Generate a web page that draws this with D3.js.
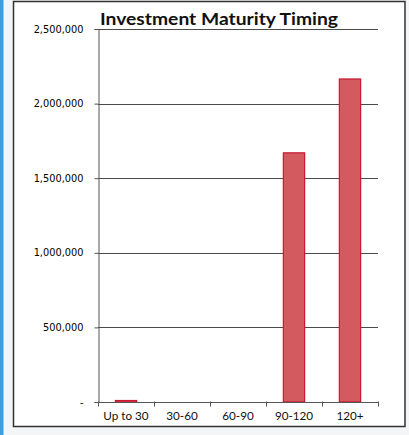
<!DOCTYPE html>
<html>
<head>
<meta charset="utf-8">
<script src="https://cdn.jsdelivr.net/npm/d3@7/dist/d3.min.js"></script>
<style>
  html, body { margin: 0; padding: 0; background: #fff; }
  svg { display: block; }
</style>
</head>
<body>
<svg id="chart" width="409" height="435"></svg>
<script>
// Maturity buckets (days) and invested amounts
const categories = ["Up to 30", "30-60", "60-90", "90-120", "120+"];
const amounts = [10000, 0, 0, 1670000, 2165000];
const yTicks = [0, 500000, 1000000, 1500000, 2000000, 2500000];
const yTickLabels = ["-", "500,000", "1,000,000", "1,500,000", "2,000,000", "2,500,000"];
const title = "Investment Maturity Timing";

const svg = d3.select("#chart");
const W = 409, H = 435;

// page background strips and chart frame
svg.append("rect").attr("x", 0).attr("y", 0).attr("width", W).attr("height", H).attr("fill", "#f4f5f6");
svg.append("rect").attr("x", 0).attr("y", 0).attr("width", 3.5).attr("height", H).attr("fill", "#3a9fe2");
svg.append("rect").attr("x", 13.5).attr("y", 1.5).attr("width", 391.5).attr("height", 425)
  .attr("fill", "#ffffff").attr("stroke", "#333").attr("stroke-width", 1.5);

const plot = { left: 98, right: 378, top: 29, bottom: 402 };

const x = d3.scaleBand()
  .domain(categories)
  .range([plot.left, plot.right])
  .paddingInner(0.62)
  .paddingOuter(0.31);

const y = d3.scaleLinear()
  .domain([0, 2500000])
  .range([plot.bottom, plot.top]);

// horizontal gridlines
svg.append("g")
  .selectAll("line")
  .data(yTicks.filter(d => d > 0))
  .join("line")
  .attr("x1", plot.left).attr("x2", plot.right)
  .attr("y1", d => Math.round(y(d)) + 0.5).attr("y2", d => Math.round(y(d)) + 0.5)
  .attr("stroke", "#4a4a4a").attr("stroke-width", 1);

// bars
svg.append("g")
  .selectAll("rect")
  .data(categories.map((c, i) => ({ c, v: amounts[i] })).filter(d => d.v > 0))
  .join("rect")
  .attr("x", d => x(d.c))
  .attr("width", x.bandwidth())
  .attr("y", d => y(d.v))
  .attr("height", d => Math.max(1, y(0) - y(d.v)))
  .attr("fill", "#d35b5f")
  .attr("stroke", "#c8172f")
  .attr("stroke-width", 1.2);

// y axis
const yAxis = d3.axisLeft(y)
  .tickValues(yTicks)
  .tickFormat((d, i) => yTickLabels[i])
  .tickSize(4)
  .tickPadding(11);
const gy = svg.append("g")
  .attr("transform", `translate(${plot.left + 0.5},0)`)
  .call(yAxis);
gy.select(".domain").attr("stroke", "#555");
gy.selectAll(".tick line").attr("stroke", "#555");
gy.selectAll(".tick text")
  .attr("font-family", "DejaVu Sans, sans-serif")
  .attr("font-size", 9.8)
  .attr("fill", "#000");

// x axis with tick marks at the category boundaries
const gx = svg.append("g")
  .attr("transform", `translate(0,${plot.bottom + 0.5})`);
gx.append("line")
  .attr("x1", plot.left).attr("x2", plot.right)
  .attr("stroke", "#555");
const edges = d3.range(categories.length + 1).map(i => plot.left + i * x.step());
gx.selectAll("line.tick")
  .data(edges)
  .join("line")
  .attr("class", "tick")
  .attr("x1", d => Math.round(d) + 0.5).attr("x2", d => Math.round(d) + 0.5)
  .attr("y1", -1).attr("y2", 4)
  .attr("stroke", "#555");
gx.selectAll("text")
  .data(categories)
  .join("text")
  .attr("x", d => x(d) + x.bandwidth() / 2)
  .attr("y", 17)
  .attr("text-anchor", "middle")
  .attr("font-family", "Lato, Liberation Sans, sans-serif")
  .attr("font-size", 11.7)
  .attr("fill", "#111")
  .text(d => d);

// title
svg.append("text")
  .attr("x", 219)
  .attr("y", 24.5)
  .attr("text-anchor", "middle")
  .attr("font-family", "Lato, Liberation Sans, sans-serif")
  .attr("font-weight", "bold")
  .attr("font-size", 17)
  .attr("fill", "#111")
  .attr("textLength", 238)
  .attr("lengthAdjust", "spacingAndGlyphs")
  .text(title);
</script>
</body>
</html>
